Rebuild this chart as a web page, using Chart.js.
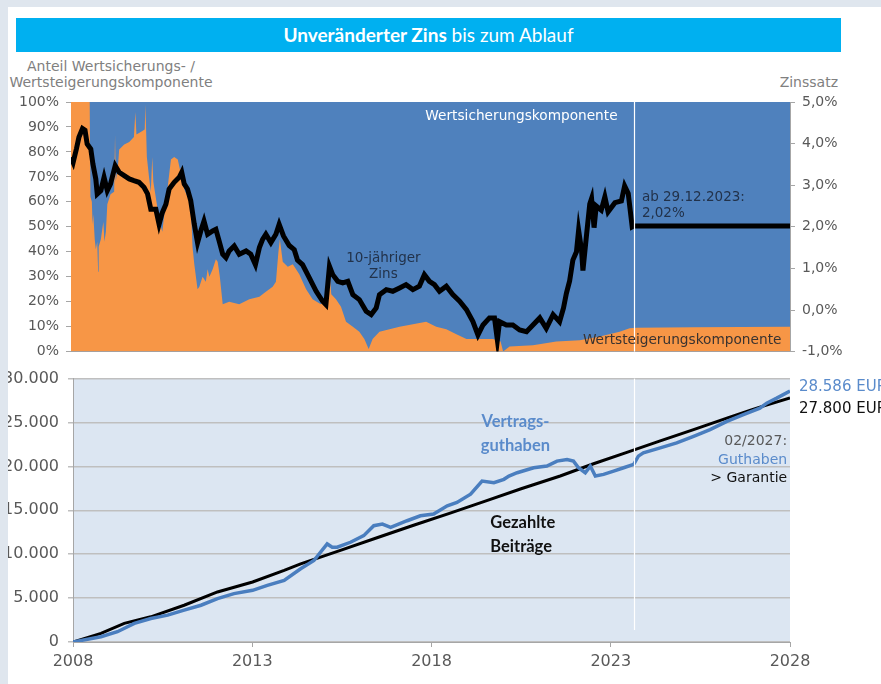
<!DOCTYPE html>
<html lang="de">
<head>
<meta charset="utf-8">
<title>Unveränderter Zins bis zum Ablauf</title>
<script src="https://cdn.jsdelivr.net/npm/chart.js@4.4.1/dist/chart.umd.min.js"></script>
<style>
  html, body { margin: 0; padding: 0; background: #fff; }
  body { width: 881px; height: 684px; position: relative; overflow: hidden; font-family: 'DejaVu Sans', sans-serif; }
  canvas { position: absolute; left: 0; }
  #top { top: 80px; }
  #bottom { top: 360px; }
  .title {
    position: absolute; left: 16px; top: 18px; width: 825px; height: 34px;
    background: #00b0f0; color: #fff; text-align: center; line-height: 34px;
    font-family: Lato, sans-serif; font-size: 19px;
  }
  .title b { font-weight: 700; }
  .axis-title { position: absolute; color: #808080; font-size: 14px; line-height: 16px; }
  .strip-left { position: absolute; left: 0; top: 0; width: 8px; height: 684px; background: #dfe6ee; }
  .strip-top { position: absolute; left: 0; top: 0; width: 881px; height: 7px; background: #dfe6ee; }
</style>
</head>
<body>
<div class="title"><b>Unveränderter Zins</b> bis zum Ablauf</div>
<div class="axis-title" style="left:8px; top:58px; width:206px; text-align:center;">Anteil Wertsicherungs- /<br>Wertsteigerungskomponente</div>
<div class="axis-title" style="right:43px; top:74px;">Zinssatz</div>
<canvas id="top" width="881" height="287"></canvas>
<canvas id="bottom" width="881" height="324"></canvas>
<div class="strip-left"></div>
<div class="strip-top"></div>
<script>
// Anteil Wertsteigerungskomponente (%), Rest = Wertsicherungskomponente
const shareYears = [2008.00, 2008.52, 2008.54, 2008.58, 2008.60, 2008.62, 2008.66, 2008.69, 2008.73, 2008.755,
  2008.77, 2008.83, 2008.90, 2008.93, 2008.97, 2009.01, 2009.10, 2009.20, 2009.225, 2009.245,
  2009.31, 2009.34, 2009.48, 2009.62, 2009.75, 2009.79, 2009.82, 2009.94, 2010.05, 2010.07,
  2010.11, 2010.17, 2010.22, 2010.26, 2010.29, 2010.41, 2010.50, 2010.54, 2010.62, 2010.69,
  2010.78, 2010.87, 2010.97, 2011.03, 2011.08, 2011.15, 2011.24, 2011.33, 2011.38, 2011.43,
  2011.52, 2011.57, 2011.66, 2011.75, 2011.80, 2011.85, 2011.94, 2012.03, 2012.08, 2012.14,
  2012.22, 2012.40, 2012.68, 2012.96, 2013.24, 2013.42, 2013.61, 2013.70, 2013.77, 2013.81,
  2013.89, 2014.03, 2014.17, 2014.35, 2014.54, 2014.72, 2014.95, 2015.15, 2015.19, 2015.24,
  2015.37, 2015.51, 2015.65, 2015.84, 2016.02, 2016.16, 2016.28, 2016.39, 2016.58, 2016.86,
  2017.14, 2017.51, 2017.88, 2018.16, 2018.44, 2018.72, 2019.00, 2019.37, 2019.74, 2019.95,
  2020.02, 2020.11, 2020.20, 2020.85, 2021.50, 2022.15, 2022.71, 2023.26, 2023.54, 2023.73,
  2025.31, 2028.00];
const shareValues = [100, 100, 62, 60, 51, 55, 45, 41, 44, 32,
  42, 45, 52, 44, 48, 59, 63, 64, 87, 68,
  75, 81, 83, 84, 86, 96, 87, 88, 89, 99,
  78, 70, 64, 78, 68, 57, 50, 48, 58, 66,
  77, 78, 77, 73, 74, 65, 62, 60, 42, 35,
  25, 26, 30, 28, 33, 30, 33, 37, 36, 30,
  19, 20, 19, 21, 22, 24, 26, 28, 40, 45,
  36, 34, 35, 31, 25, 21, 19, 22, 32, 23,
  21, 18, 12, 10, 8, 5, 1, 5, 8, 9,
  10, 11, 12, 10, 9, 7, 5, 5, 5, 4,
  0, 1, 2, 2.5, 4, 4.5, 6, 8, 9.4, 9.6,
  9.8, 10];
const totalShare = shareYears.map(() => 100);

// 10-jähriger Zins (%)
const rateYears = [2008.00, 2008.06, 2008.15, 2008.22, 2008.32, 2008.39, 2008.45, 2008.55, 2008.61, 2008.69,
  2008.73, 2008.83, 2008.92, 2009.01, 2009.10, 2009.23, 2009.34, 2009.48, 2009.62, 2009.75,
  2009.89, 2010.03, 2010.13, 2010.22, 2010.36, 2010.45, 2010.54, 2010.64, 2010.73, 2010.87,
  2011.01, 2011.08, 2011.15, 2011.24, 2011.33, 2011.43, 2011.52, 2011.61, 2011.70, 2011.80,
  2011.94, 2012.03, 2012.12, 2012.22, 2012.31, 2012.40, 2012.54, 2012.68, 2012.87, 2013.00,
  2013.13, 2013.24, 2013.33, 2013.42, 2013.56, 2013.70, 2013.79, 2013.91, 2014.07, 2014.21,
  2014.30, 2014.44, 2014.63, 2014.82, 2015.00, 2015.09, 2015.19, 2015.28, 2015.42, 2015.56,
  2015.70, 2015.84, 2016.02, 2016.21, 2016.35, 2016.49, 2016.58, 2016.77, 2016.95, 2017.14,
  2017.32, 2017.51, 2017.69, 2017.83, 2017.97, 2018.11, 2018.25, 2018.44, 2018.62, 2018.81,
  2019.00, 2019.18, 2019.32, 2019.46, 2019.64, 2019.78, 2019.86, 2019.92, 2020.11, 2020.29,
  2020.48, 2020.67, 2020.85, 2021.04, 2021.22, 2021.41, 2021.59, 2021.70, 2021.78, 2021.87,
  2021.96, 2022.06, 2022.12, 2022.20, 2022.24, 2022.34, 2022.43, 2022.48, 2022.55, 2022.61,
  2022.75, 2022.85, 2022.94, 2023.13, 2023.31, 2023.40, 2023.50, 2023.61, 2023.65, 2028.00];
const rateValues = [3.67, 3.55, 3.87, 4.15, 4.36, 4.32, 3.99, 3.87, 3.51, 3.15,
  2.79, 2.87, 3.19, 2.87, 3.03, 3.47, 3.31, 3.23, 3.15, 3.11,
  3.07, 2.95, 2.79, 2.42, 2.42, 2.06, 2.34, 2.54, 2.91, 3.07,
  3.19, 3.31, 3.03, 2.91, 2.63, 2.06, 1.62, 1.90, 2.14, 1.82,
  1.90, 1.94, 1.66, 1.34, 1.26, 1.42, 1.54, 1.34, 1.42, 1.34,
  1.09, 1.50, 1.70, 1.82, 1.62, 1.82, 2.06, 1.78, 1.55, 1.45,
  1.20, 1.09, 0.77, 0.45, 0.21, 0.13, 1.05, 0.85, 0.69, 0.65,
  0.69, 0.37, 0.25, -0.03, -0.11, 0.05, 0.37, 0.49, 0.45, 0.53,
  0.61, 0.49, 0.57, 0.85, 0.69, 0.61, 0.45, 0.57, 0.37, 0.21,
  0.01, -0.28, -0.60, -0.36, -0.19, -0.19, -0.72, -0.28, -0.36, -0.36,
  -0.48, -0.52, -0.36, -0.19, -0.44, -0.11, -0.28, 0.05, 0.40, 0.70,
  1.20, 1.40, 1.92, 1.45, 0.95, 1.80, 2.55, 2.68, 1.98, 2.50,
  2.40, 2.72, 2.36, 2.58, 2.62, 2.98, 2.80, 2.00, 2.02, 2.02];

// Vertragsguthaben (EUR)
const balanceYears = [2008.00, 2008.78, 2009.24, 2009.71, 2010.17, 2010.64, 2011.10, 2011.57, 2012.03, 2012.49,
  2013.01, 2013.42, 2013.89, 2014.35, 2014.72, 2015.09, 2015.23, 2015.37, 2015.74, 2016.11,
  2016.39, 2016.63, 2016.86, 2017.32, 2017.69, 2018.06, 2018.44, 2018.71, 2019.09, 2019.41,
  2019.74, 2020.02, 2020.16, 2020.39, 2020.85, 2021.22, 2021.50, 2021.78, 2021.96, 2022.10,
  2022.29, 2022.43, 2022.57, 2022.80, 2023.08, 2023.36, 2023.64, 2023.77, 2023.91, 2024.38,
  2024.84, 2025.31, 2025.77, 2026.24, 2026.70, 2027.16, 2027.35, 2027.63, 2028.00];
const balanceValues = [0, 600, 1170, 2117, 2680, 3056, 3622, 4188, 4943, 5510,
  5886, 6452, 7018, 8340, 9283, 11170, 10793, 10793, 11359, 12113,
  13245, 13434, 13056, 13811, 14377, 14566, 15509, 15886, 16830, 18338,
  18150, 18527, 18904, 19282, 19848, 20037, 20602, 20791, 20602, 19848,
  19282, 20037, 18904, 19093, 19470, 19848, 20225, 21168, 21546, 22112,
  22678, 23432, 24187, 25130, 25885, 26640, 27206, 27772, 28586];

// Gezahlte Beiträge (EUR)
const paidYears = [2008.00, 2008.78, 2009.43, 2010.17, 2011.10, 2012.03, 2013.01, 2013.89, 2014.35, 2015.50,
  2016.50, 2017.50, 2018.50, 2019.50, 2020.50, 2021.59, 2022.52, 2023.45, 2024.38, 2025.31,
  2026.24, 2026.90, 2027.16, 2028.00];
const paidValues = [0, 980, 2117, 2868, 4188, 5697, 6830, 8150, 8905, 10500,
  11900, 13300, 14650, 16050, 17450, 18904, 20300, 21600, 22900, 24187,
  25507, 26400, 26750, 27800];

const xTickYears = [2008, 2013, 2018, 2023, 2028];
const rateFixedFrom = 2023.65; // ab 29.12.2023

const toPoints = (xs, ys) => xs.map((x, i) => ({ x, y: ys[i] }));
const fmtThousands = v => String(v).replace(/\B(?=(\d{3})+(?!\d))/g, '.');

Chart.defaults.font.family = "'DejaVu Sans', sans-serif";
Chart.defaults.color = '#595959';

// Texte und Hilfslinie im Diagramm
const notesPlugin = {
  id: 'notes',
  beforeDraw(chart, args, opts) {
    if (!opts.background) return;
    const a = chart.chartArea;
    chart.ctx.save();
    chart.ctx.fillStyle = opts.background;
    chart.ctx.fillRect(a.left, a.top, a.right - a.left, a.bottom - a.top);
    chart.ctx.restore();
  },
  afterDatasetsDraw(chart, args, opts) {
    const ctx = chart.ctx;
    const a = chart.chartArea;
    const xs = chart.scales.x;
    ctx.save();
    if (opts.marker) {
      const px = Math.round(xs.getPixelForValue(opts.marker)) + 0.5;
      ctx.strokeStyle = '#ffffff';
      ctx.lineWidth = 1.2;
      ctx.beginPath();
      ctx.moveTo(px, a.top);
      ctx.lineTo(px, a.bottom - (opts.markerGap || 0));
      ctx.stroke();
    }
    (opts.items || []).forEach(n => {
      const ys = chart.scales[n.axis || 'y'];
      ctx.font = n.font;
      ctx.fillStyle = n.color;
      ctx.textAlign = n.align || 'left';
      ctx.textBaseline = 'middle';
      ctx.fillText(n.text, xs.getPixelForValue(n.x), ys.getPixelForValue(n.y));
    });
    ctx.restore();
  }
};

const axisGray = '#a6a6a6';
const tickFont14 = { size: 14 };

new Chart(document.getElementById('top'), {
  type: 'line',
  data: {
    datasets: [
      {
        label: '10-jähriger Zins',
        data: toPoints(rateYears, rateValues),
        yAxisID: 'yR',
        borderColor: '#000000',
        borderWidth: 5,
        pointRadius: 0,
        tension: 0,
        fill: false,
        order: 0
      },
      {
        label: 'Wertsteigerungskomponente',
        data: toPoints(shareYears, shareValues),
        yAxisID: 'y',
        borderColor: 'rgba(0,0,0,0)',
        borderWidth: 0,
        backgroundColor: '#f79646',
        pointRadius: 0,
        tension: 0,
        fill: 'origin',
        order: 1
      },
      {
        label: 'Wertsicherungskomponente',
        data: toPoints(shareYears, totalShare),
        yAxisID: 'y',
        borderColor: 'rgba(0,0,0,0)',
        borderWidth: 0,
        backgroundColor: '#4f81bd',
        pointRadius: 0,
        fill: 'origin',
        order: 2
      }
    ]
  },
  options: {
    responsive: false,
    animation: false,
    events: [],
    layout: { padding: { top: 22, bottom: 3 } },
    plugins: {
      legend: { display: false },
      tooltip: { enabled: false },
      notes: {
        marker: rateFixedFrom,
        items: [
          { text: 'Wertsicherungskomponente', x: 2020.53, y: 94.4, align: 'center', color: '#ffffff', font: "13.7px 'DejaVu Sans'" },
          { text: '10-jähriger', x: 2016.69, y: 37.3, align: 'center', color: '#22324a', font: "13.5px 'DejaVu Sans'" },
          { text: 'Zins', x: 2016.69, y: 30.9, align: 'center', color: '#22324a', font: "13.5px 'DejaVu Sans'" },
          { text: 'ab 29.12.2023:', x: 2023.88, y: 61.8, color: '#22324a', font: "13.5px 'DejaVu Sans'" },
          { text: '2,02%', x: 2023.88, y: 55.4, color: '#22324a', font: "13.5px 'DejaVu Sans'" },
          { text: 'Wertsteigerungskomponente', x: 2025.0, y: 4.4, align: 'center', color: '#3a3330', font: "13.7px 'DejaVu Sans'" }
        ]
      }
    },
    scales: {
      x: {
        type: 'linear', min: 2008, max: 2028,
        ticks: { display: false },
        grid: { display: false, drawTicks: false },
        border: { display: true, color: axisGray },
        afterFit: s => { s.height = 0; }
      },
      y: {
        position: 'left', min: 0, max: 100,
        ticks: { stepSize: 10, padding: 7, font: tickFont14, callback: v => v + '%' },
        grid: { drawOnChartArea: false, tickLength: 5, color: axisGray },
        border: { color: axisGray },
        afterFit: s => { s.width = 71; }
      },
      yR: {
        position: 'right', min: -1, max: 5,
        ticks: { stepSize: 1, padding: 7, font: tickFont14, callback: v => v.toFixed(1).replace('.', ',') + '%' },
        grid: { drawOnChartArea: false, tickLength: 5, color: axisGray },
        border: { color: axisGray },
        afterFit: s => { s.width = 91; }
      }
    }
  },
  plugins: [notesPlugin]
});

new Chart(document.getElementById('bottom'), {
  type: 'line',
  data: {
    datasets: [
      {
        label: 'Vertragsguthaben',
        data: toPoints(balanceYears, balanceValues),
        borderColor: '#4a7ebf',
        borderWidth: 3.5,
        pointRadius: 0,
        tension: 0,
        order: 0
      },
      {
        label: 'Gezahlte Beiträge',
        data: toPoints(paidYears, paidValues),
        borderColor: '#000000',
        borderWidth: 3,
        pointRadius: 0,
        tension: 0,
        order: 1
      }
    ]
  },
  options: {
    responsive: false,
    animation: false,
    events: [],
    layout: { padding: { top: 17, right: 91 } },
    plugins: {
      legend: { display: false },
      tooltip: { enabled: false },
      notes: {
        background: '#dce6f2',
        marker: rateFixedFrom,
        markerGap: 12,
        items: [
          { text: 'Vertrags-', x: 2020.34, y: 25130, align: 'center', color: '#5a8bcb', font: "bold 16.5px Lato" },
          { text: 'guthaben', x: 2020.34, y: 22414, align: 'center', color: '#5a8bcb', font: "bold 16.5px Lato" },
          { text: 'Gezahlte', x: 2019.64, y: 13584, color: '#111111', font: "bold 16.5px Lato" },
          { text: 'Beiträge', x: 2019.64, y: 10867, color: '#111111', font: "bold 16.5px Lato" },
          { text: '02/2027:', x: 2027.92, y: 22866, align: 'right', color: '#595959', font: "14px 'DejaVu Sans'" },
          { text: 'Guthaben', x: 2027.92, y: 20716, align: 'right', color: '#5a8bcb', font: "14px 'DejaVu Sans'" },
          { text: '> Garantie', x: 2027.92, y: 18678, align: 'right', color: '#111111', font: "14px 'DejaVu Sans'" },
          { text: fmtThousands(balanceValues[balanceValues.length - 1]) + ' EUR', x: 2028.25, y: 28981, color: '#5a8bcb', font: "15px 'DejaVu Sans'" },
          { text: fmtThousands(paidValues[paidValues.length - 1]) + ' EUR', x: 2028.25, y: 26490, color: '#111111', font: "15px 'DejaVu Sans'" }
        ]
      }
    },
    scales: {
      x: {
        type: 'linear', min: 2008, max: 2028,
        afterBuildTicks: s => { s.ticks = xTickYears.map(v => ({ value: v })); },
        ticks: { padding: 5, font: { size: 16 }, callback: v => String(v), maxRotation: 0 },
        grid: { drawOnChartArea: false, tickLength: 5, color: axisGray },
        border: { color: axisGray },
        afterFit: s => { s.height = 42; }
      },
      y: {
        min: 0, max: 30000,
        ticks: { stepSize: 5000, padding: 9, font: { size: 16 }, callback: v => fmtThousands(v) },
        grid: { color: '#bfbfbf', lineWidth: 1.5, tickLength: 5 },
        border: { color: axisGray },
        afterFit: s => { s.width = 73; }
      }
    }
  },
  plugins: [notesPlugin]
});
</script>
</body>
</html>
